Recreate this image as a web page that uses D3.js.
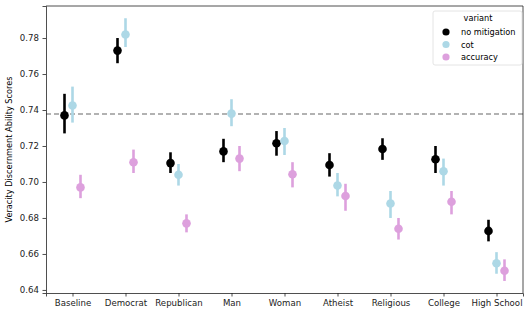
<!DOCTYPE html>
<html>
<head>
<meta charset="utf-8">
<script src="https://cdn.jsdelivr.net/npm/d3@7"></script>
<style>
  body { margin: 0; background: #fff; }
  svg { font-family: "DejaVu Sans", sans-serif; }
</style>
</head>
<body>
<div id="chart"></div>
<script>
// Categories on the x axis
var personas = ['Baseline', 'Democrat', 'Republican', 'Man', 'Woman', 'Atheist', 'Religious', 'College', 'High School'];
var variants = ['no mitigation', 'cot', 'accuracy'];
var variantColors = ['#000000', '#add8e6', '#dda0dd'];

// point estimate, lower and upper CI per variant (in persona order)
var noMitigation = [0.737, 0.773, 0.7105, 0.717, 0.7215, 0.7094, 0.7183, 0.7126, 0.6728];
var noMitigationLo = [0.727, 0.766, 0.705, 0.711, 0.7146, 0.703, 0.7123, 0.705, 0.667];
var noMitigationHi = [0.749, 0.780, 0.7165, 0.724, 0.7283, 0.716, 0.7243, 0.720, 0.679];

var cot = [0.7425, 0.782, 0.704, 0.738, 0.7228, 0.698, 0.688, 0.706, 0.6548];
var cotLo = [0.733, 0.775, 0.698, 0.731, 0.715, 0.692, 0.680, 0.698, 0.649];
var cotHi = [0.753, 0.791, 0.710, 0.746, 0.730, 0.705, 0.695, 0.713, 0.661];

var accuracy = [0.697, 0.711, 0.677, 0.713, 0.7043, 0.6922, 0.674, 0.689, 0.6507];
var accuracyLo = [0.691, 0.705, 0.672, 0.706, 0.697, 0.684, 0.668, 0.682, 0.645];
var accuracyHi = [0.704, 0.718, 0.682, 0.720, 0.711, 0.699, 0.680, 0.695, 0.657];

var baselineRef = 0.7378;
var yTicks = [0.64, 0.66, 0.68, 0.70, 0.72, 0.74, 0.76, 0.78];

var seriesVals = [noMitigation, cot, accuracy];
var seriesLo = [noMitigationLo, cotLo, accuracyLo];
var seriesHi = [noMitigationHi, cotHi, accuracyHi];

// flatten into records for drawing
var data = [];
variants.forEach(function(v, vi) {
    personas.forEach(function(p, pi) {
        data.push({persona: p, variant: v, vi: vi, y: seriesVals[vi][pi], lo: seriesLo[vi][pi], hi: seriesHi[vi][pi]});
    });
});

var W = 524, H = 313;
var margin = {top: 6, right: 1, bottom: 20, left: 46};
var width = W - margin.left - margin.right,
    height = H - margin.top - margin.bottom;

var svg = d3.select('#chart').append('svg')
    .attr('width', W).attr('height', H)
    .append('g')
    .attr('transform', 'translate(' + margin.left + ',' + margin.top + ')');

var x = d3.scalePoint().domain(personas).range([0, width]).padding(0.5);
var dodge = d3.scalePoint().domain(variants).range([-8, 8]);
var y = d3.scaleLinear().domain([0.6383, 0.7978]).range([height, 0]);

// dashed reference line
svg.append('line')
    .attr('x1', 0).attr('x2', width)
    .attr('y1', y(baselineRef)).attr('y2', y(baselineRef))
    .attr('stroke', '#999').attr('stroke-width', 1.5)
    .attr('stroke-dasharray', '5,3');

// error bars
svg.append('g').selectAll('line')
    .data(data).enter().append('line')
    .attr('x1', function(d) { return x(d.persona) + dodge(d.variant); })
    .attr('x2', function(d) { return x(d.persona) + dodge(d.variant); })
    .attr('y1', function(d) { return y(d.lo); })
    .attr('y2', function(d) { return y(d.hi); })
    .attr('stroke', function(d) { return variantColors[d.vi]; })
    .attr('stroke-width', 2.6);

// points
svg.append('g').selectAll('circle')
    .data(data).enter().append('circle')
    .attr('cx', function(d) { return x(d.persona) + dodge(d.variant); })
    .attr('cy', function(d) { return y(d.y); })
    .attr('r', 4.3)
    .attr('fill', function(d) { return variantColors[d.vi]; });

// axes
var xAxis = svg.append('g')
    .attr('transform', 'translate(0,' + height + ')')
    .call(d3.axisBottom(x).tickSizeOuter(0).tickSize(3.5).tickPadding(3.5));
var yAxis = svg.append('g')
    .call(d3.axisLeft(y).tickValues(yTicks).tickFormat(d3.format('.2f')).tickSizeOuter(0).tickSize(3.5).tickPadding(3.5));

[xAxis, yAxis].forEach(function(a) {
    a.selectAll('text').attr('font-size', 8.6).attr('fill', '#222').attr('font-family', '"DejaVu Sans", sans-serif');
    a.selectAll('line').attr('stroke', '#222').attr('stroke-width', 0.8);
    a.select('.domain').attr('stroke', '#222').attr('stroke-width', 0.8);
});

// spines top and right
svg.append('line').attr('x1', 0).attr('x2', width).attr('y1', 0).attr('y2', 0).attr('stroke', '#222').attr('stroke-width', 0.8);
svg.append('line').attr('x1', width).attr('x2', width).attr('y1', 0).attr('y2', height).attr('stroke', '#222').attr('stroke-width', 0.8);

// axis labels
svg.append('text')
    .attr('text-anchor', 'middle')
    .attr('x', width / 2)
    .attr('y', height + 27)
    .attr('font-size', 8.6)
    .text('Persona');
svg.append('text')
    .attr('text-anchor', 'middle')
    .attr('transform', 'rotate(-90)')
    .attr('x', -height / 2)
    .attr('y', -margin.left + 12)
    .attr('font-size', 8.2)
    .text('Veracity Discernment Ability Scores');

// legend
var lg = svg.append('g').attr('transform', 'translate(' + (433 - margin.left) + ',' + (11 - margin.top) + ')');
lg.append('rect')
    .attr('width', 89).attr('height', 54).attr('rx', 2)
    .attr('fill', '#fff').attr('fill-opacity', 0.8)
    .attr('stroke', '#ddd').attr('stroke-width', 0.8);
lg.append('text').attr('x', 45).attr('y', 10).attr('text-anchor', 'middle').attr('font-size', 8.2).text('variant');
variants.forEach(function(v, i) {
    lg.append('circle').attr('cx', 13).attr('cy', 21 + i * 12.5).attr('r', 3.6).attr('fill', variantColors[i]);
    lg.append('text').attr('x', 28).attr('y', 24 + i * 12.5).attr('font-size', 8.2).text(v);
});
</script>
</body>
</html>
